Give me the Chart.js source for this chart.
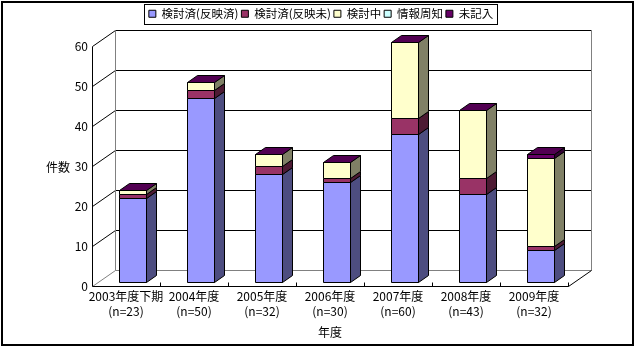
<!DOCTYPE html>
<html>
<head>
<meta charset="utf-8">
<script src="https://cdn.jsdelivr.net/npm/chart.js"></script>
<style>
  body { margin: 0; background: #fff; }
</style>
</head>
<body>
<canvas id="myChart" width="639" height="350"></canvas>
<script>
// 年度別の件数（積み上げ）
const years = ['2003年度下期', '2004年度', '2005年度', '2006年度', '2007年度', '2008年度', '2009年度'];
const seriesNames = ['検討済(反映済)', '検討済(反映未)', '検討中', '情報周知', '未記入'];
const reflected = [21, 46, 27, 25, 37, 22, 8];
const notReflected = [1, 2, 2, 1, 4, 4, 1];
const underReview = [1, 2, 3, 4, 19, 17, 22];
const informed = [0, 0, 0, 0, 0, 0, 0];
const unrecorded = [0, 0, 0, 0, 0, 0, 1];
const seriesColors = ['#9999FF', '#993366', '#FFFFCC', '#CCFFFF', '#660066'];

const allSeries = [reflected, notReflected, underReview, informed, unrecorded];
const totals = years.map((_, i) => allSeries.reduce((s, arr) => s + arr[i], 0));
const labels = years.map((y, i) => [y, '(n=' + totals[i] + ')']);

Chart.defaults.font.family = "'Noto Sans CJK JP', 'DejaVu Sans', sans-serif";
Chart.defaults.font.size = 12;
Chart.defaults.color = '#000';

// 奥行き（Excel風の3D表示）
const DEPTH_X = 23, DEPTH_Y = -16;
const BAR_SHIFT = 0.28, BAR_DEPTH = 0.43;

function shade(hex, k) {
  const n = parseInt(hex.slice(1), 16);
  const r = Math.round(((n >> 16) & 255) * k);
  const g = Math.round(((n >> 8) & 255) * k);
  const b = Math.round((n & 255) * k);
  return 'rgb(' + r + ',' + g + ',' + b + ')';
}

function face(ctx, pts, fill) {
  ctx.beginPath();
  ctx.moveTo(pts[0][0], pts[0][1]);
  for (let k = 1; k < pts.length; k++) ctx.lineTo(pts[k][0], pts[k][1]);
  ctx.closePath();
  ctx.fillStyle = fill;
  ctx.fill();
  ctx.stroke();
}

function line(ctx, x1, y1, x2, y2, color) {
  ctx.beginPath();
  ctx.strokeStyle = color;
  ctx.moveTo(x1, y1);
  ctx.lineTo(x2, y2);
  ctx.stroke();
}

const bars3d = {
  id: 'bars3d',
  beforeDatasetsDraw(chart) {
    const ctx = chart.ctx;
    const xs = chart.scales.x, ys = chart.scales.y;
    const L = chart.chartArea.left + 0.5, R = chart.chartArea.right + 0.5;
    const y0 = Math.round(ys.getPixelForValue(0)) + 0.5;
    const yTop = Math.round(ys.getPixelForValue(ys.max)) + 0.5;

    ctx.save();
    ctx.lineWidth = 1;
    // 壁と目盛線
    ys.ticks.forEach(t => {
      const yy = Math.round(ys.getPixelForValue(t.value)) + 0.5;
      const c = t.value === 0 ? '#808080' : '#000';
      line(ctx, L, yy, L + DEPTH_X, yy + DEPTH_Y, c);
      line(ctx, L + DEPTH_X, yy + DEPTH_Y, R + DEPTH_X, yy + DEPTH_Y, c);
    });
    line(ctx, L + DEPTH_X, y0 + DEPTH_Y, L + DEPTH_X, yTop + DEPTH_Y, '#808080');
    line(ctx, R + DEPTH_X, y0 + DEPTH_Y, R + DEPTH_X, yTop + DEPTH_Y, '#808080');
    line(ctx, R, y0, R + DEPTH_X, y0 + DEPTH_Y, '#000');
    line(ctx, L, y0, R, y0, '#000');
    line(ctx, L, y0, L, yTop, '#000');
    const step = (xs.getPixelForValue(1) - xs.getPixelForValue(0));
    for (let i = 1; i <= years.length; i++) {
      const tx = Math.round(xs.getPixelForValue(i - 1) + step / 2) + 0.5;
      line(ctx, tx, y0, tx, y0 - 4, '#000');
    }

    // 棒
    const fx = BAR_SHIFT * DEPTH_X, fy = BAR_SHIFT * DEPTH_Y;
    const bx = Math.round(BAR_DEPTH * DEPTH_X), by = Math.round(BAR_DEPTH * DEPTH_Y);
    const ds = chart.data.datasets;
    ctx.strokeStyle = '#000';
    for (let i = 0; i < chart.data.labels.length; i++) {
      let x1, x2, topY;
      ds.forEach((d, di) => {
        const bar = chart.getDatasetMeta(di).data[i];
        const p = bar.getProps(['x', 'y', 'base', 'width'], true);
        x1 = Math.round(p.x - p.width / 2 + fx) + 0.5;
        x2 = Math.round(p.x + p.width / 2 + fx) + 0.5;
        const yt = Math.round(p.y + fy) + 0.5;
        const yb = Math.round(p.base + fy) + 0.5;
        topY = yt;
        if (yb - yt < 0.5) return;
        face(ctx, [[x1, yb], [x2, yb], [x2, yt], [x1, yt]], d.backgroundColor);
        face(ctx, [[x2, yb], [x2 + bx, yb + by], [x2 + bx, yt + by], [x2, yt]], shade(d.backgroundColor, 0.5));
      });
      face(ctx, [[x1, topY], [x1 + bx, topY + by], [x2 + bx, topY + by], [x2, topY]],
        shade(ds[ds.length - 1].backgroundColor, 0.8));
    }
    ctx.restore();
    return false;
  },
  afterDraw(chart) {
    const ctx = chart.ctx;
    ctx.save();
    // 凡例の枠
    const lg = chart.legend;
    const pad = lg.options.labels.padding;
    const x0 = (lg.left + pad + lg.right - lg.lineWidths[0]) / 2;
    const w = lg.lineWidths[0] - pad;
    ctx.strokeStyle = '#000';
    ctx.lineWidth = 1;
    ctx.strokeRect(Math.round(x0 - 5) + 0.5, 4.5, Math.round(w + 9), 20);

    // 縦軸タイトル
    ctx.fillStyle = '#000';
    ctx.font = "12px 'Noto Sans CJK JP', sans-serif";
    ctx.textAlign = 'center';
    ctx.textBaseline = 'middle';
    ctx.fillText('件数', 58, 167);

    // 外枠
    ctx.lineWidth = 2;
    ctx.strokeRect(2, 2, 631, 343);
    ctx.restore();
  }
};

new Chart(document.getElementById('myChart'), {
  type: 'bar',
  data: {
    labels: labels,
    datasets: allSeries.map((arr, k) => ({
      label: seriesNames[k],
      data: arr,
      backgroundColor: seriesColors[k],
      borderColor: '#000',
      borderWidth: 1,
      categoryPercentage: 1,
      barPercentage: 0.4
    }))
  },
  options: {
    responsive: false,
    animation: false,
    layout: {
      padding: { top: 5, right: 71, left: 74, bottom: 0 }
    },
    scales: {
      x: {
        stacked: true,
        grid: { display: false, drawTicks: false },
        border: { display: false },
        ticks: { maxRotation: 0, autoSkip: false, padding: 3, font: { size: 12, lineHeight: 1.25 } },
        title: { display: true, text: '年度', padding: { top: 4, bottom: 10 } },
        afterFit(scale) { scale.height = 64; }
      },
      y: {
        stacked: true,
        min: 0,
        max: 60,
        grid: { display: false, drawTicks: false },
        border: { display: false },
        ticks: { stepSize: 10, padding: 4 },
        afterFit(scale) { scale.width = 18; }
      }
    },
    plugins: {
      legend: {
        position: 'top',
        labels: {
          boxWidth: 7,
          boxHeight: 7,
          padding: 3,
          font: { size: 11.5 }
        }
      },
      // 凡例と作図領域の間隔
      title: {
        display: true,
        text: '',
        weight: 500,
        padding: { top: 0, bottom: 15.5 },
        font: { size: 1, lineHeight: 1 }
      },
      tooltip: { enabled: false }
    }
  },
  plugins: [bars3d]
});
</script>
</body>
</html>
